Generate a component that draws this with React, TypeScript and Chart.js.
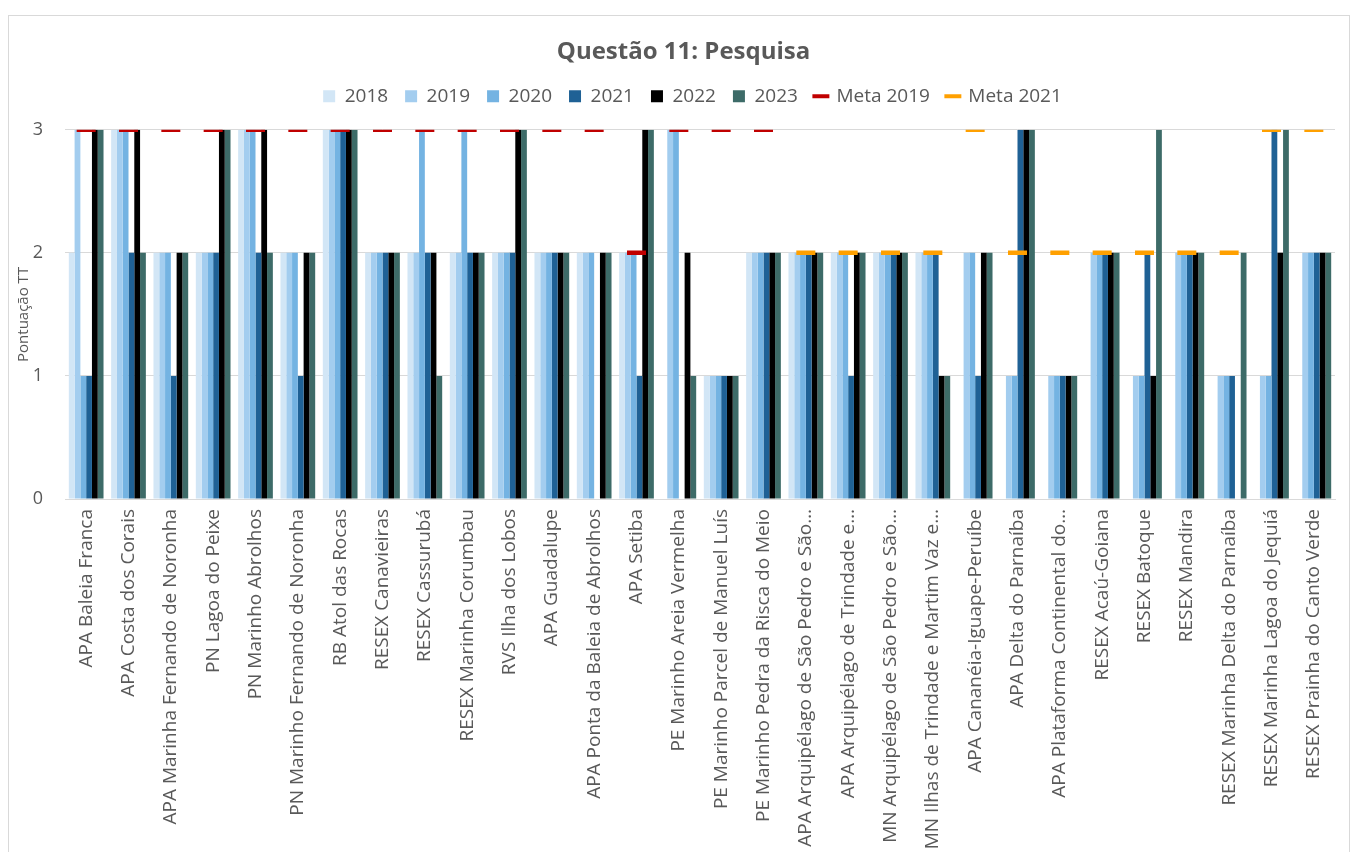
import React, { useEffect, useRef } from 'react';
import { Chart, registerables } from 'chart.js';

Chart.register(...registerables);

const categories = [
  'APA Baleia Franca',
  'APA Costa dos Corais',
  'APA Marinha Fernando de Noronha',
  'PN Lagoa do Peixe',
  'PN Marinho Abrolhos',
  'PN Marinho Fernando de Noronha',
  'RB Atol das Rocas',
  'RESEX Canavieiras',
  'RESEX Cassurubá',
  'RESEX Marinha Corumbau',
  'RVS Ilha dos Lobos',
  'APA Guadalupe',
  'APA Ponta da Baleia de Abrolhos',
  'APA Setiba',
  'PE Marinho Areia Vermelha',
  'PE Marinho Parcel de Manuel Luís',
  'PE Marinho Pedra da Risca do Meio',
  'APA Arquipélago de São Pedro e São…',
  'APA Arquipélago de Trindade e…',
  'MN Arquipélago de São Pedro e São…',
  'MN Ilhas de Trindade e Martim Vaz e…',
  'APA Cananéia-Iguape-Peruíbe',
  'APA Delta do Parnaíba',
  'APA Plataforma Continental do…',
  'RESEX Acaú-Goiana',
  'RESEX Batoque',
  'RESEX Mandira',
  'RESEX Marinha Delta do Parnaíba',
  'RESEX Marinha Lagoa do Jequiá',
  'RESEX Prainha do Canto Verde',
];

const s2018 = [2, 3, 2, 2, 3, 2, 3, 2, 2, 2, 2, 2, 2, 2, null, 1, 2, 2, 2, 2, 2, null, null, null, null, null, null, null, null, null];
const s2019 = [3, 3, 2, 2, 3, 2, 3, 2, 2, 2, 2, 2, 2, 2, 3, 1, 2, 2, 2, 2, 2, 2, 1, 1, 2, 1, 2, 1, 1, 2];
const s2020 = [1, 3, 2, 2, 3, 2, 3, 2, 3, 3, 2, 2, 2, 2, 3, 1, 2, 2, 2, 2, 2, 2, 1, 1, 2, 1, 2, 1, 1, 2];
const s2021 = [1, 2, 1, 2, 2, 1, 3, 2, 2, 2, 2, 2, null, 1, null, 1, 2, 2, 1, 2, 2, 1, 3, 1, 2, 2, 2, 1, 3, 2];
const s2022 = [3, 3, 2, 3, 3, 2, 3, 2, 2, 2, 3, 2, 2, 3, 2, 1, 2, 2, 2, 2, 1, 2, 3, 1, 2, 1, 2, null, 2, 2];
const s2023 = [3, 2, 2, 3, 2, 2, 3, 2, 1, 2, 3, 2, 2, 3, 1, 1, 2, 2, 2, 2, 1, 2, 3, 1, 2, 3, 2, 2, 3, 2];
const meta2019 = [3, 3, 3, 3, 3, 3, 3, 3, 3, 3, 3, 3, 3, 2, 3, 3, 3, null, null, null, null, null, null, null, null, null, null, null, null, null];
const meta2021 = [null, null, null, null, null, null, null, null, null, null, null, null, null, null, null, null, null, 2, 2, 2, 2, 3, 2, 2, 2, 2, 2, 2, 3, 3];

const seriesNames = ['2018', '2019', '2020', '2021', '2022', '2023'];
const seriesColors = ['#D2E6F6', '#A3CDEF', '#74B3E2', '#1F6195', '#000000', '#3D6B68'];
const metaNames = ['Meta 2019', 'Meta 2021'];
const metaColors = ['#C00000', '#FFA000'];
const yTicks = [0, 1, 2, 3];

const TEXT = '#595959';
const GRID = '#D9D9D9';
const FONT = '"Open Sans", "DejaVu Sans", sans-serif';

export default function App() {
  const ref = useRef<HTMLCanvasElement | null>(null);

  useEffect(() => {
    if (!ref.current) return;
    const barSeries = [s2018, s2019, s2020, s2021, s2022, s2023];
    const metaSeries = [meta2019, meta2021];

    const datasets: any[] = barSeries.map((d, i) => ({
      type: 'bar',
      label: seriesNames[i],
      data: d,
      backgroundColor: seriesColors[i],
      borderWidth: 0,
      categoryPercentage: 0.82,
      barPercentage: 1.0,
      order: 1,
    }));
    metaSeries.forEach((d, i) => {
      datasets.push({
        type: 'line',
        label: metaNames[i],
        data: d,
        showLine: false,
        borderColor: metaColors[i],
        backgroundColor: metaColors[i],
        pointStyle: 'line',
        pointRadius: 9.5,
        pointHoverRadius: 9.5,
        pointBorderWidth: 4.5,
        pointBorderColor: metaColors[i],
        order: 0,
      });
    });

    const layoutTweaks = {
      id: 'layoutTweaks',
      beforeInit(chart: any) {
        const legend = chart.legend;
        if (!legend) return;
        const origFit = legend.fit;
        legend.fit = function fit() {
          origFit.bind(legend)();
          this.height += 14;
        };
      },
      afterLayout(chart: any) {
        if (chart.legend) {
          chart.legend.left += 14;
          chart.legend.right += 14;
        }
        if (chart.titleBlock) {
          chart.titleBlock.left += 5;
          chart.titleBlock.right += 5;
        }
      },
    };

    const chart = new Chart(ref.current, {
      type: 'bar',
      data: { labels: categories, datasets },
      plugins: [layoutTweaks],
      options: {
        animation: false,
        responsive: true,
        maintainAspectRatio: false,
        layout: { padding: { left: 0, right: 1, top: 0, bottom: 0 } },
        plugins: {
          tooltip: { enabled: false },
          title: {
            display: true,
            text: 'Questão 11: Pesquisa',
            color: TEXT,
            font: { family: FONT, size: 24, weight: 'bold', lineHeight: 1.2 },
            padding: { top: 22, bottom: 3 },
          },
          legend: {
            display: true,
            position: 'top',
            labels: {
              color: TEXT,
              font: { family: FONT, size: 19 },
              usePointStyle: true,
              boxWidth: 12,
              boxHeight: 12,
              padding: 17,
              sort: (a: any, b: any) => a.datasetIndex - b.datasetIndex,
              generateLabels: (c: any) => {
                const items = (Chart.defaults.plugins.legend.labels as any).generateLabels(c);
                return items.map((it: any) => {
                  const isMeta = it.datasetIndex >= seriesNames.length;
                  const col = isMeta
                    ? metaColors[it.datasetIndex - seriesNames.length]
                    : seriesColors[it.datasetIndex];
                  return {
                    ...it,
                    pointStyle: isMeta ? 'line' : 'rect',
                    fillStyle: col,
                    strokeStyle: col,
                    lineWidth: isMeta ? 4 : 0,
                    fontColor: TEXT,
                  };
                });
              },
            },
          },
        },
        scales: {
          x: {
            grid: { display: false, drawTicks: false },
            border: { display: true, color: GRID, width: 1 },
            ticks: {
              autoSkip: false,
              minRotation: 90,
              maxRotation: 90,
              padding: 10,
              color: TEXT,
              font: { family: FONT, size: 19 },
            },
            afterFit: (scale: any) => {
              scale.height = 353;
            },
          },
          y: {
            min: yTicks[0],
            max: yTicks[yTicks.length - 1],
            afterBuildTicks: (scale: any) => {
              scale.ticks = yTicks.map((v) => ({ value: v }));
            },
            grid: { color: GRID, lineWidth: 1, drawTicks: false },
            border: { display: false },
            ticks: {
              padding: 22,
              color: TEXT,
              font: { family: FONT, size: 18 },
            },
            title: {
              display: true,
              text: 'Pontuação TT',
              color: TEXT,
              font: { family: FONT, size: 15 },
              padding: { top: 6, bottom: 0 },
            },
            afterFit: (scale: any) => {
              scale.width = 56;
            },
          },
        },
      } as any,
    });
    return () => chart.destroy();
  }, []);

  return (
    <div
      style={{
        position: 'fixed',
        left: 8,
        top: 15,
        width: 1340,
        height: 836,
        border: `1px solid ${GRID}`,
        background: '#FFFFFF',
      }}
    >
      <div style={{ position: 'relative', width: 1340, height: 836 }}>
        <canvas ref={ref} />
      </div>
    </div>
  );
}
